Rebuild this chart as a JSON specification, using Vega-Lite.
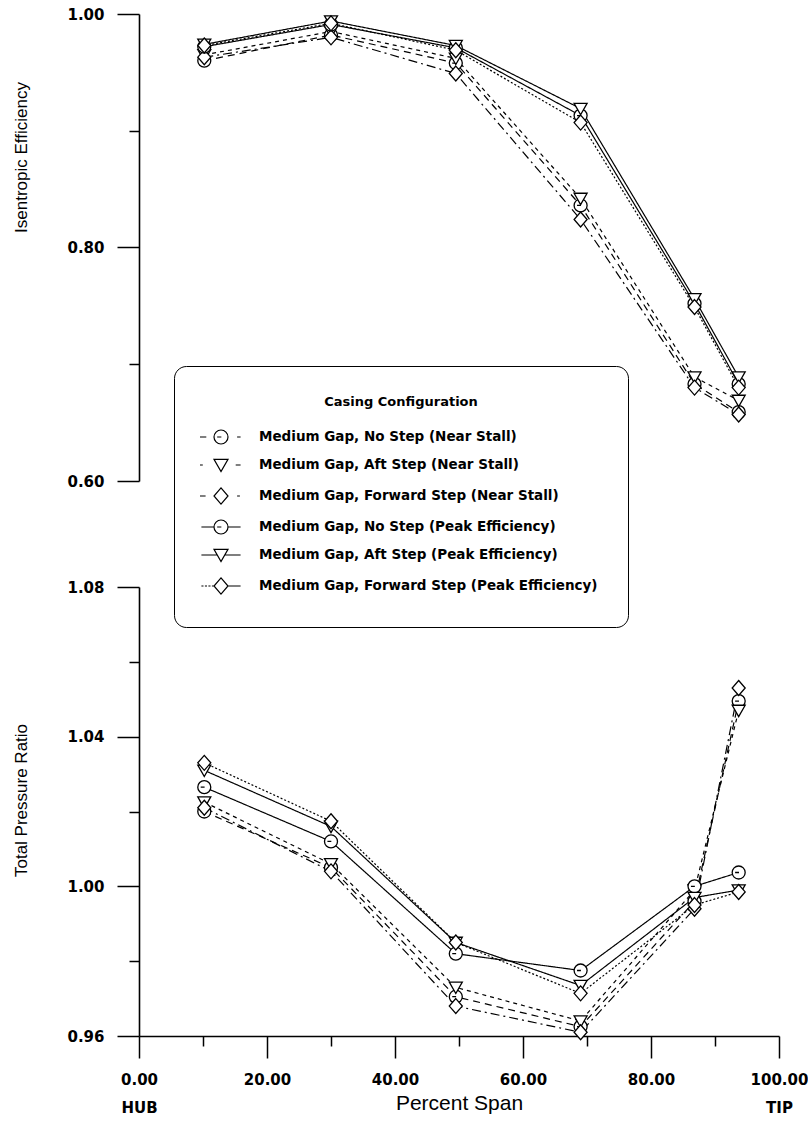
{
  "$schema": "https://vega.github.io/schema/vega-lite/v6.json",
  "background": "white",
  "padding": {"left": 12, "top": 7, "right": 5, "bottom": 5},
  "bounds": "flush",
  "spacing": 106,
  "config": {
    "view": {"stroke": null},
    "axis": {"domainColor": "black", "domainWidth": 1.6, "tickColor": "black", "tickWidth": 1.5, "labelColor": "black", "titleColor": "black", "grid": false, "labelFont": "DejaVu Sans", "labelFontWeight": "bold", "labelFontSize": 15, "titleFont": "Liberation Sans", "titleFontWeight": "normal", "titleFontSize": 17, "labelOverlap": false, "labelFlush": false, "labelBound": false}
  },
  "datasets": {
    "eff": [
      {"config": "Medium Gap, No Step (Near Stall)", "span": 10.2, "value": 0.960},
      {"config": "Medium Gap, No Step (Near Stall)", "span": 30, "value": 0.982},
      {"config": "Medium Gap, No Step (Near Stall)", "span": 49.5, "value": 0.958},
      {"config": "Medium Gap, No Step (Near Stall)", "span": 69, "value": 0.836},
      {"config": "Medium Gap, No Step (Near Stall)", "span": 86.8, "value": 0.683},
      {"config": "Medium Gap, No Step (Near Stall)", "span": 93.7, "value": 0.659},
      {"config": "Medium Gap, Aft Step (Near Stall)", "span": 10.2, "value": 0.965},
      {"config": "Medium Gap, Aft Step (Near Stall)", "span": 30, "value": 0.985},
      {"config": "Medium Gap, Aft Step (Near Stall)", "span": 49.5, "value": 0.962},
      {"config": "Medium Gap, Aft Step (Near Stall)", "span": 69, "value": 0.842},
      {"config": "Medium Gap, Aft Step (Near Stall)", "span": 86.8, "value": 0.689},
      {"config": "Medium Gap, Aft Step (Near Stall)", "span": 93.7, "value": 0.669},
      {"config": "Medium Gap, Forward Step (Near Stall)", "span": 10.2, "value": 0.963},
      {"config": "Medium Gap, Forward Step (Near Stall)", "span": 30, "value": 0.980},
      {"config": "Medium Gap, Forward Step (Near Stall)", "span": 49.5, "value": 0.949},
      {"config": "Medium Gap, Forward Step (Near Stall)", "span": 69, "value": 0.824},
      {"config": "Medium Gap, Forward Step (Near Stall)", "span": 86.8, "value": 0.680},
      {"config": "Medium Gap, Forward Step (Near Stall)", "span": 93.7, "value": 0.657},
      {"config": "Medium Gap, No Step (Peak Efficiency)", "span": 10.2, "value": 0.972},
      {"config": "Medium Gap, No Step (Peak Efficiency)", "span": 30, "value": 0.991},
      {"config": "Medium Gap, No Step (Peak Efficiency)", "span": 49.5, "value": 0.971},
      {"config": "Medium Gap, No Step (Peak Efficiency)", "span": 69, "value": 0.913},
      {"config": "Medium Gap, No Step (Peak Efficiency)", "span": 86.8, "value": 0.752},
      {"config": "Medium Gap, No Step (Peak Efficiency)", "span": 93.7, "value": 0.683},
      {"config": "Medium Gap, Aft Step (Peak Efficiency)", "span": 10.2, "value": 0.974},
      {"config": "Medium Gap, Aft Step (Peak Efficiency)", "span": 30, "value": 0.994},
      {"config": "Medium Gap, Aft Step (Peak Efficiency)", "span": 49.5, "value": 0.973},
      {"config": "Medium Gap, Aft Step (Peak Efficiency)", "span": 69, "value": 0.919},
      {"config": "Medium Gap, Aft Step (Peak Efficiency)", "span": 86.8, "value": 0.756},
      {"config": "Medium Gap, Aft Step (Peak Efficiency)", "span": 93.7, "value": 0.689},
      {"config": "Medium Gap, Forward Step (Peak Efficiency)", "span": 10.2, "value": 0.973},
      {"config": "Medium Gap, Forward Step (Peak Efficiency)", "span": 30, "value": 0.992},
      {"config": "Medium Gap, Forward Step (Peak Efficiency)", "span": 49.5, "value": 0.969},
      {"config": "Medium Gap, Forward Step (Peak Efficiency)", "span": 69, "value": 0.907},
      {"config": "Medium Gap, Forward Step (Peak Efficiency)", "span": 86.8, "value": 0.749},
      {"config": "Medium Gap, Forward Step (Peak Efficiency)", "span": 93.7, "value": 0.680}
    ],
    "tpr": [
      {"config": "Medium Gap, No Step (Near Stall)", "span": 10.2, "value": 1.020},
      {"config": "Medium Gap, No Step (Near Stall)", "span": 30, "value": 1.005},
      {"config": "Medium Gap, No Step (Near Stall)", "span": 49.5, "value": 0.9705},
      {"config": "Medium Gap, No Step (Near Stall)", "span": 69, "value": 0.9625},
      {"config": "Medium Gap, No Step (Near Stall)", "span": 86.8, "value": 0.996},
      {"config": "Medium Gap, No Step (Near Stall)", "span": 93.7, "value": 1.0495},
      {"config": "Medium Gap, Aft Step (Near Stall)", "span": 10.2, "value": 1.0225},
      {"config": "Medium Gap, Aft Step (Near Stall)", "span": 30, "value": 1.006},
      {"config": "Medium Gap, Aft Step (Near Stall)", "span": 49.5, "value": 0.973},
      {"config": "Medium Gap, Aft Step (Near Stall)", "span": 69, "value": 0.964},
      {"config": "Medium Gap, Aft Step (Near Stall)", "span": 86.8, "value": 0.999},
      {"config": "Medium Gap, Aft Step (Near Stall)", "span": 93.7, "value": 1.047},
      {"config": "Medium Gap, Forward Step (Near Stall)", "span": 10.2, "value": 1.021},
      {"config": "Medium Gap, Forward Step (Near Stall)", "span": 30, "value": 1.004},
      {"config": "Medium Gap, Forward Step (Near Stall)", "span": 49.5, "value": 0.968},
      {"config": "Medium Gap, Forward Step (Near Stall)", "span": 69, "value": 0.961},
      {"config": "Medium Gap, Forward Step (Near Stall)", "span": 86.8, "value": 0.994},
      {"config": "Medium Gap, Forward Step (Near Stall)", "span": 93.7, "value": 1.053},
      {"config": "Medium Gap, No Step (Peak Efficiency)", "span": 10.2, "value": 1.0265},
      {"config": "Medium Gap, No Step (Peak Efficiency)", "span": 30, "value": 1.012},
      {"config": "Medium Gap, No Step (Peak Efficiency)", "span": 49.5, "value": 0.982},
      {"config": "Medium Gap, No Step (Peak Efficiency)", "span": 69, "value": 0.9775},
      {"config": "Medium Gap, No Step (Peak Efficiency)", "span": 86.8, "value": 1.000},
      {"config": "Medium Gap, No Step (Peak Efficiency)", "span": 93.7, "value": 1.0037},
      {"config": "Medium Gap, Aft Step (Peak Efficiency)", "span": 10.2, "value": 1.031},
      {"config": "Medium Gap, Aft Step (Peak Efficiency)", "span": 30, "value": 1.016},
      {"config": "Medium Gap, Aft Step (Peak Efficiency)", "span": 49.5, "value": 0.985},
      {"config": "Medium Gap, Aft Step (Peak Efficiency)", "span": 69, "value": 0.9735},
      {"config": "Medium Gap, Aft Step (Peak Efficiency)", "span": 86.8, "value": 0.997},
      {"config": "Medium Gap, Aft Step (Peak Efficiency)", "span": 93.7, "value": 0.999},
      {"config": "Medium Gap, Forward Step (Peak Efficiency)", "span": 10.2, "value": 1.033},
      {"config": "Medium Gap, Forward Step (Peak Efficiency)", "span": 30, "value": 1.0174},
      {"config": "Medium Gap, Forward Step (Peak Efficiency)", "span": 49.5, "value": 0.985},
      {"config": "Medium Gap, Forward Step (Peak Efficiency)", "span": 69, "value": 0.9714},
      {"config": "Medium Gap, Forward Step (Peak Efficiency)", "span": 86.8, "value": 0.995},
      {"config": "Medium Gap, Forward Step (Peak Efficiency)", "span": 93.7, "value": 0.9985}
    ]
  },
  "vconcat": [
    {
      "width": 640,
      "height": 467,
      "data": {"name": "eff"},
      "encoding": {
        "x": {"field": "span", "type": "quantitative", "scale": {"domain": [0, 100], "nice": false, "zero": false}, "axis": null},
        "y": {"field": "value", "type": "quantitative", "scale": {"domain": [0.6, 1.0], "nice": false, "zero": false},
          "axis": {
            "values": [0.6, 0.7, 0.8, 0.9, 1.0],
            "tickSize": {"condition": {"test": "datum.value == 0.7 || datum.value == 0.9", "value": 10}, "value": 22},
            "labelExpr": "datum.value == 0.7 || datum.value == 0.9 ? '' : format(datum.value, '.2f')",
            "labelPadding": 13,
            "title": "Isentropic Efficiency",
            "titleAngle": 270,
            "titleX": -118,
            "titleY": 143,
            "titleAlign": "center",
            "titleBaseline": "middle"
          }
        }
      },
      "layer": [
        {
          "mark": {"type": "line", "color": "black", "strokeWidth": 1.2},
          "encoding": {
            "strokeDash": {"field": "config", "type": "nominal",
              "scale": {"domain": ["Medium Gap, No Step (Near Stall)", "Medium Gap, Aft Step (Near Stall)", "Medium Gap, Forward Step (Near Stall)", "Medium Gap, No Step (Peak Efficiency)", "Medium Gap, Aft Step (Peak Efficiency)", "Medium Gap, Forward Step (Peak Efficiency)"],
                "range": [[7, 5], [4, 4], [9, 4, 2, 4], [1, 0], [1, 0], [2, 2]]},
              "legend": null}
          }
        },
        {
          "mark": {"type": "point", "filled": true, "fill": "white", "stroke": "black", "strokeWidth": 1.3, "size": 169, "opacity": 1},
          "encoding": {
            "shape": {"field": "config", "type": "nominal",
              "scale": {"domain": ["Medium Gap, No Step (Near Stall)", "Medium Gap, Aft Step (Near Stall)", "Medium Gap, Forward Step (Near Stall)", "Medium Gap, No Step (Peak Efficiency)", "Medium Gap, Aft Step (Peak Efficiency)", "Medium Gap, Forward Step (Peak Efficiency)"],
                "range": [
                  "M1,0A1,1,0,1,1,-1,0A1,1,0,1,1,1,0ZM-0.55,0L0.05,0",
                  "M-1,-0.8L1,-0.8L0,0.95Z",
                  "M0,-1.15L1,0L0,1.15L-1,0Z",
                  "M1,0A1,1,0,1,1,-1,0A1,1,0,1,1,1,0ZM-0.55,0L0.05,0",
                  "M-1,-0.8L1,-0.8L0,0.95Z",
                  "M0,-1.15L1,0L0,1.15L-1,0Z"
                ]},
              "legend": null}
          }
        },
        {
          "transform": [{"filter": "false"}],
          "mark": {"type": "point", "filled": false, "color": "black", "strokeWidth": 1.2, "size": 196},
          "encoding": {
            "shape": {"field": "config", "type": "nominal",
              "scale": {"domain": ["Medium Gap, No Step (Near Stall)", "Medium Gap, Aft Step (Near Stall)", "Medium Gap, Forward Step (Near Stall)", "Medium Gap, No Step (Peak Efficiency)", "Medium Gap, Aft Step (Peak Efficiency)", "Medium Gap, Forward Step (Peak Efficiency)"],
                "range": [
                  "M-3,0L-2.1,0M1,0A1,1,0,1,1,-1,0A1,1,0,1,1,1,0ZM-0.55,0L0.05,0M2.3,0L2.8,0",
                  "M-3,0L-2.6,0M-1,-0.8L1,-0.8L0,0.95ZM2.1,0L2.8,0",
                  "M-3,0L-2.2,0M0,-1.15L1,0L0,1.15L-1,0ZM2.3,0L2.7,0",
                  "M-2.8,0L-1,0M1,0A1,1,0,1,1,-1,0A1,1,0,1,1,1,0ZM-0.55,0L0.05,0M1,0L2.8,0",
                  "M-2.8,0L-0.54,0M-1,-0.8L1,-0.8L0,0.95ZM0.54,0L2.8,0",
                  "M-2.8,0L-2.5,0M-2.3,0L-2,0M-1.8,0L-1.5,0M-1.3,0L-1,0M0,-1.15L1,0L0,1.15L-1,0ZM1,0L2.8,0"
                ]},
              "legend": {
                "title": "Casing Configuration",
                "orient": "none",
                "legendX": 35,
                "legendY": 352,
                "direction": "vertical",
                "padding": 30,
                "strokeColor": "black",
                "fillColor": "white",
                "cornerRadius": 12,
                "titleFont": "DejaVu Sans",
                "titleFontWeight": "bold",
                "titleFontSize": 13,
                "titleColor": "black",
                "titleAnchor": "middle",
                "titlePadding": 20,
                "labelFont": "DejaVu Sans",
                "labelFontWeight": "bold",
                "labelFontSize": 13.5,
                "labelColor": "black",
                "labelLimit": 600,
                "labelOffset": 30,
                "symbolOffset": 9,
                "symbolSize": 196,
                "symbolStrokeColor": "black",
                "symbolStrokeWidth": 1.2,
                "symbolOpacity": 1,
                "rowPadding": 10
              }
            }
          }
        }
      ],
      "resolve": {"scale": {"shape": "independent"}}
    },
    {
      "width": 640,
      "height": 449,
      "data": {"name": "tpr"},
      "encoding": {
        "x": {"field": "span", "type": "quantitative", "scale": {"domain": [0, 100], "nice": false, "zero": false},
          "axis": {
            "values": [0, 10, 20, 30, 40, 50, 60, 70, 80, 90, 100],
            "tickSize": {"condition": {"test": "datum.value % 20 != 0", "value": 10}, "value": 22},
            "labelExpr": "datum.value == 0 ? ['0.00', 'HUB'] : datum.value == 100 ? ['100.00', 'TIP'] : datum.value % 20 == 0 ? format(datum.value, '.2f') : ''",
            "labelPadding": 14,
            "labelLineHeight": 28,
            "title": "Percent Span",
            "titleFontSize": 21,
            "titleY": 67,
            "titleBaseline": "middle"
          }
        },
        "y": {"field": "value", "type": "quantitative", "scale": {"domain": [0.96, 1.08], "nice": false, "zero": false},
          "axis": {
            "values": [0.96, 0.98, 1.0, 1.02, 1.04, 1.06, 1.08],
            "tickSize": {"condition": {"test": "datum.value == 0.98 || datum.value == 1.02 || datum.value == 1.06", "value": 10}, "value": 22},
            "labelExpr": "datum.value == 0.98 || datum.value == 1.02 || datum.value == 1.06 ? '' : format(datum.value, '.2f')",
            "labelPadding": 13,
            "title": "Total Pressure Ratio",
            "titleAngle": 270,
            "titleX": -118,
            "titleY": 213,
            "titleAlign": "center",
            "titleBaseline": "middle"
          }
        }
      },
      "layer": [
        {
          "mark": {"type": "line", "color": "black", "strokeWidth": 1.2},
          "encoding": {
            "strokeDash": {"field": "config", "type": "nominal",
              "scale": {"domain": ["Medium Gap, No Step (Near Stall)", "Medium Gap, Aft Step (Near Stall)", "Medium Gap, Forward Step (Near Stall)", "Medium Gap, No Step (Peak Efficiency)", "Medium Gap, Aft Step (Peak Efficiency)", "Medium Gap, Forward Step (Peak Efficiency)"],
                "range": [[7, 5], [4, 4], [9, 4, 2, 4], [1, 0], [1, 0], [2, 2]]},
              "legend": null}
          }
        },
        {
          "mark": {"type": "point", "filled": true, "fill": "white", "stroke": "black", "strokeWidth": 1.3, "size": 169, "opacity": 1},
          "encoding": {
            "shape": {"field": "config", "type": "nominal",
              "scale": {"domain": ["Medium Gap, No Step (Near Stall)", "Medium Gap, Aft Step (Near Stall)", "Medium Gap, Forward Step (Near Stall)", "Medium Gap, No Step (Peak Efficiency)", "Medium Gap, Aft Step (Peak Efficiency)", "Medium Gap, Forward Step (Peak Efficiency)"],
                "range": [
                  "M1,0A1,1,0,1,1,-1,0A1,1,0,1,1,1,0ZM-0.55,0L0.05,0",
                  "M-1,-0.8L1,-0.8L0,0.95Z",
                  "M0,-1.15L1,0L0,1.15L-1,0Z",
                  "M1,0A1,1,0,1,1,-1,0A1,1,0,1,1,1,0ZM-0.55,0L0.05,0",
                  "M-1,-0.8L1,-0.8L0,0.95Z",
                  "M0,-1.15L1,0L0,1.15L-1,0Z"
                ]},
              "legend": null}
          }
        },
        {
          "data": {"values": [{}]},
          "mark": {"type": "text", "text": "85% Design Speed", "font": "DejaVu Sans", "fontWeight": "bold", "fontSize": 15, "color": "black"},
          "encoding": {
            "x": {"datum": 38.6, "type": "quantitative"},
            "y": {"datum": 1.065, "type": "quantitative"}
          }
        }
      ]
    }
  ]
}
